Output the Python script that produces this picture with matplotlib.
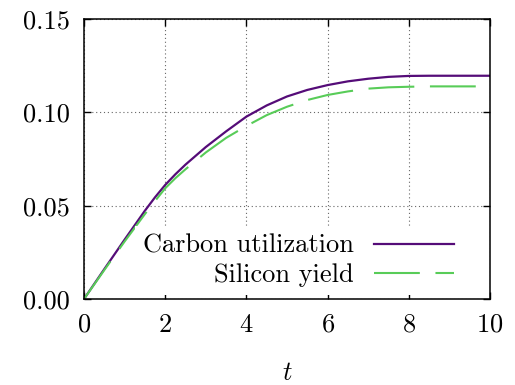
import numpy as np
import matplotlib
matplotlib.use("Agg")
import matplotlib.pyplot as plt
from matplotlib.ticker import FormatStrFormatter

plt.rcParams["font.family"] = "cmr10"
plt.rcParams["mathtext.fontset"] = "cm"
plt.rcParams["axes.formatter.use_mathtext"] = True
plt.rcParams["font.size"] = 19

t = [0.0, 0.5, 1.0, 1.5, 1.75, 2.0, 2.25, 2.5, 3.0, 3.5, 4.0, 4.5, 5.0,
     5.5, 6.0, 6.5, 7.0, 7.5, 8.0, 8.5, 9.0, 9.5, 10.0]
carbon = [0.0, 0.0160, 0.0318, 0.0473, 0.0545, 0.0611, 0.0668, 0.0720, 0.0814, 0.0898, 0.0977,
          0.1037, 0.1085, 0.1120, 0.1146, 0.1166, 0.1180, 0.1190, 0.1195, 0.1196, 0.1196,
          0.1196, 0.1196]
silicon = [0.0, 0.0155, 0.0308, 0.0455, 0.0525, 0.0593, 0.0647, 0.0695, 0.0785, 0.0863, 0.0927,
           0.0985, 0.1030, 0.1066, 0.1093, 0.1112, 0.1127, 0.1134, 0.1137, 0.1139, 0.1139,
           0.1139, 0.1139]

xticks = [0, 2, 4, 6, 8, 10]
yticks = [0.0, 0.05, 0.10, 0.15]

fig = plt.figure(figsize=(5.15, 3.85), dpi=100)
ax = fig.add_axes([84 / 515, 1 - 299 / 385, 406 / 515, 280 / 385])

ax.plot(t, carbon, color="#550c78", lw=1.6, label="Carbon utilization")
ax.plot(t, silicon, color="#58cc58", lw=1.5, ls=(0, (22, 7.5)), label="Silicon yield")

ax.set_xlim(0, 10)
ax.set_ylim(0, 0.15)
ax.set_xticks(xticks)
ax.set_yticks(yticks)
ax.yaxis.set_major_formatter(FormatStrFormatter("%.2f"))
ax.set_xlabel("$t$", labelpad=18)

ax.grid(True, color="0.4", ls=(0, (1, 2.5)), lw=0.8)
ax.tick_params(direction="in", length=5, width=1, top=True, right=True, pad=10)
for s in ax.spines.values():
    s.set_linewidth(1.1)

leg = ax.legend(loc="lower right", bbox_to_anchor=(0.93, 0.015), markerfirst=False,
                frameon=True, fancybox=False, edgecolor="none", framealpha=1,
                handlelength=3.0, handletextpad=0.8, labelspacing=0.2,
                borderpad=0.3, borderaxespad=0)

fig.savefig("out.png", dpi=100)
